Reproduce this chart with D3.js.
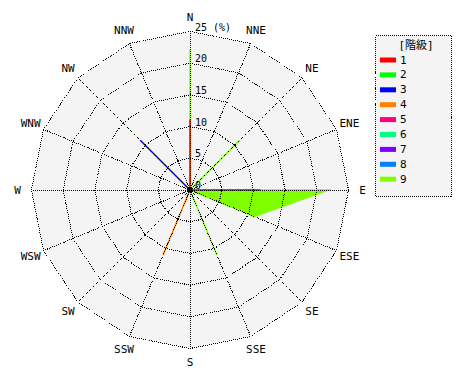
<!DOCTYPE html>
<html>
<head>
<meta charset="utf-8">
<script src="https://cdn.jsdelivr.net/npm/d3@7"></script>
<style>
  body { margin: 0; background: #fff; }
  text { font-family: "DejaVu Sans Mono", "Noto Sans CJK JP", monospace; font-size: 11px; fill: #000; }
</style>
</head>
<body>
<div id="plot"></div>
<script>
let svgWidth = 470;
let svgHeight = 380;
let cx = 190, cy = 190;
let rMax = 158.5;

// 16 compass points, clockwise from north
var directions = ['N','NNE','NE','ENE','E','ESE','SE','SSE','S','SSW','SW','WSW','W','WNW','NW','NNW'];
var ringTicks = [0, 5, 10, 15, 20, 25];
var classNames = ['1','2','3','4','5','6','7','8','9'];
var classColors = ['#ff0000','#00ff00','#0000ff','#ff8000','#ff0080','#00ff80','#8000ff','#0080ff','#80ff00'];

// frequency (%) per class, per direction
var class1 = [11.1,0,0,0,11.1,0,0,0,0,0,0,0,0,0,0,0];
var class2 = [0,0,0,0,0,0,0,0,0,0,0,0,0,0,0,0];
var class3 = [0,0,0,0,0,0,0,0,0,0,0,0,0,0,11.1,0];
var class4 = [0,0,0,0,0,0,0,0,0,11.1,0,0,0,0,0,0];
var class5 = [0,0,0,0,0,0,0,0,0,0,0,0,0,0,0,0];
var class6 = [0,0,0,0,0,0,0,0,0,0,0,0,0,0,0,0];
var class7 = [0,0,0,0,0,0,0,0,0,0,0,0,0,0,0,0];
var class8 = [0,0,0,0,0,0,0,0,0,0,0,0,0,0,0,0];
var class9 = [11.1,0,11.1,0,11.1,11.1,0,11.1,0,0,0,0,0,0,0,0];

let classes = [class1,class2,class3,class4,class5,class6,class7,class8,class9];

// cumulative totals so each class polygon stacks on the ones below it
let cumulative = [];
classes.forEach(function(c, k){
    cumulative[k] = c.map((v, i) => v + (k > 0 ? cumulative[k-1][i] : 0));
});

let r = d3.scaleLinear().domain([0, 25]).range([0, rMax]);
let ang = d3.scaleLinear().domain([0, directions.length]).range([0, 2 * Math.PI]);

function pt(i, v){
    return [cx + r(v) * Math.sin(ang(i)), cy - r(v) * Math.cos(ang(i))];
}

let svg = d3.select('#plot')
    .append('svg')
        .attr('width', svgWidth)
        .attr('height', svgHeight);

// grey plot area
svg.append('polygon')
    .attr('points', directions.map((d, i) => pt(i, 25).join(',')).join(' '))
    .attr('fill', '#f4f4f4');

// class polygons, top class first so lower classes sit on top;
// only the spikes that are not hidden by a lower class get a stroke
d3.range(classes.length - 1, -1, -1).forEach(function(k){
    let vals = cumulative[k];
    svg.append('polygon')
        .attr('points', vals.map((v, i) => pt(i, v).join(',')).join(' '))
        .attr('fill', classColors[k]);
    svg.selectAll('.spike' + k)
        .data(vals.map((v, i) => ({v: v, i: i, own: classes[k][i]})).filter(d => d.own > 0))
        .join('line')
            .attr('x1', cx).attr('y1', cy)
            .attr('x2', d => pt(d.i, d.v)[0])
            .attr('y2', d => pt(d.i, d.v)[1])
            .attr('stroke', classColors[k])
            .attr('stroke-width', 1.5);
});

// rings
svg.selectAll('.ring')
    .data(ringTicks.filter(t => t > 0))
    .join('polygon')
        .attr('class', 'ring')
        .attr('points', t => directions.map((d, i) => pt(i, t).join(',')).join(' '))
        .attr('fill', 'none')
        .attr('stroke', '#000')
        .attr('stroke-dasharray', '1,1')
        .attr('shape-rendering', 'crispEdges');

// spokes
svg.selectAll('.spoke')
    .data(directions)
    .join('line')
        .attr('class', 'spoke')
        .attr('x1', cx).attr('y1', cy)
        .attr('x2', (d, i) => pt(i, 25)[0])
        .attr('y2', (d, i) => pt(i, 25)[1])
        .attr('stroke', '#000')
        .attr('stroke-dasharray', '1,1')
        .attr('shape-rendering', 'crispEdges');

svg.append('circle')
    .attr('cx', cx).attr('cy', cy).attr('r', 2.5)
    .attr('fill', '#000');

// direction labels
svg.selectAll('.dir')
    .data(directions)
    .join('text')
        .attr('class', 'dir')
        .attr('x', (d, i) => cx + (rMax + 14) * Math.sin(ang(i)))
        .attr('y', (d, i) => cy - (rMax + 14) * Math.cos(ang(i)))
        .attr('text-anchor', 'middle')
        .attr('dominant-baseline', 'central')
        .text(d => d);

// ring labels
svg.selectAll('.tick')
    .data(ringTicks)
    .join('text')
        .attr('class', 'tick')
        .attr('x', cx + 5)
        .attr('y', t => cy - r(t) - 1)
        .style('font-size', '10px')
        .text(t => t == 25 ? '25 (%)' : t);

// legend
let legend = svg.append('g').attr('transform', 'translate(375,35)');
legend.append('rect')
    .attr('x', 0.5).attr('y', 0.5)
    .attr('width', 76).attr('height', 161)
    .attr('fill', '#f4f4f4')
    .attr('stroke', '#000')
    .attr('stroke-dasharray', '1,1')
    .attr('shape-rendering', 'crispEdges');
legend.append('text')
    .attr('x', 41).attr('y', 14)
    .attr('text-anchor', 'middle')
    .text('[階級]');
let item = legend.selectAll('.item')
    .data(classNames)
    .join('g')
        .attr('class', 'item')
        .attr('transform', (d, i) => `translate(0,${25 + i * 14.9})`);
item.append('rect')
    .attr('x', 5).attr('y', -2.5)
    .attr('width', 16).attr('height', 5)
    .attr('fill', (d, i) => classColors[i]);
item.append('text')
    .attr('x', 25).attr('y', 0)
    .attr('dominant-baseline', 'central')
    .text(d => d);
</script>
</body>
</html>
